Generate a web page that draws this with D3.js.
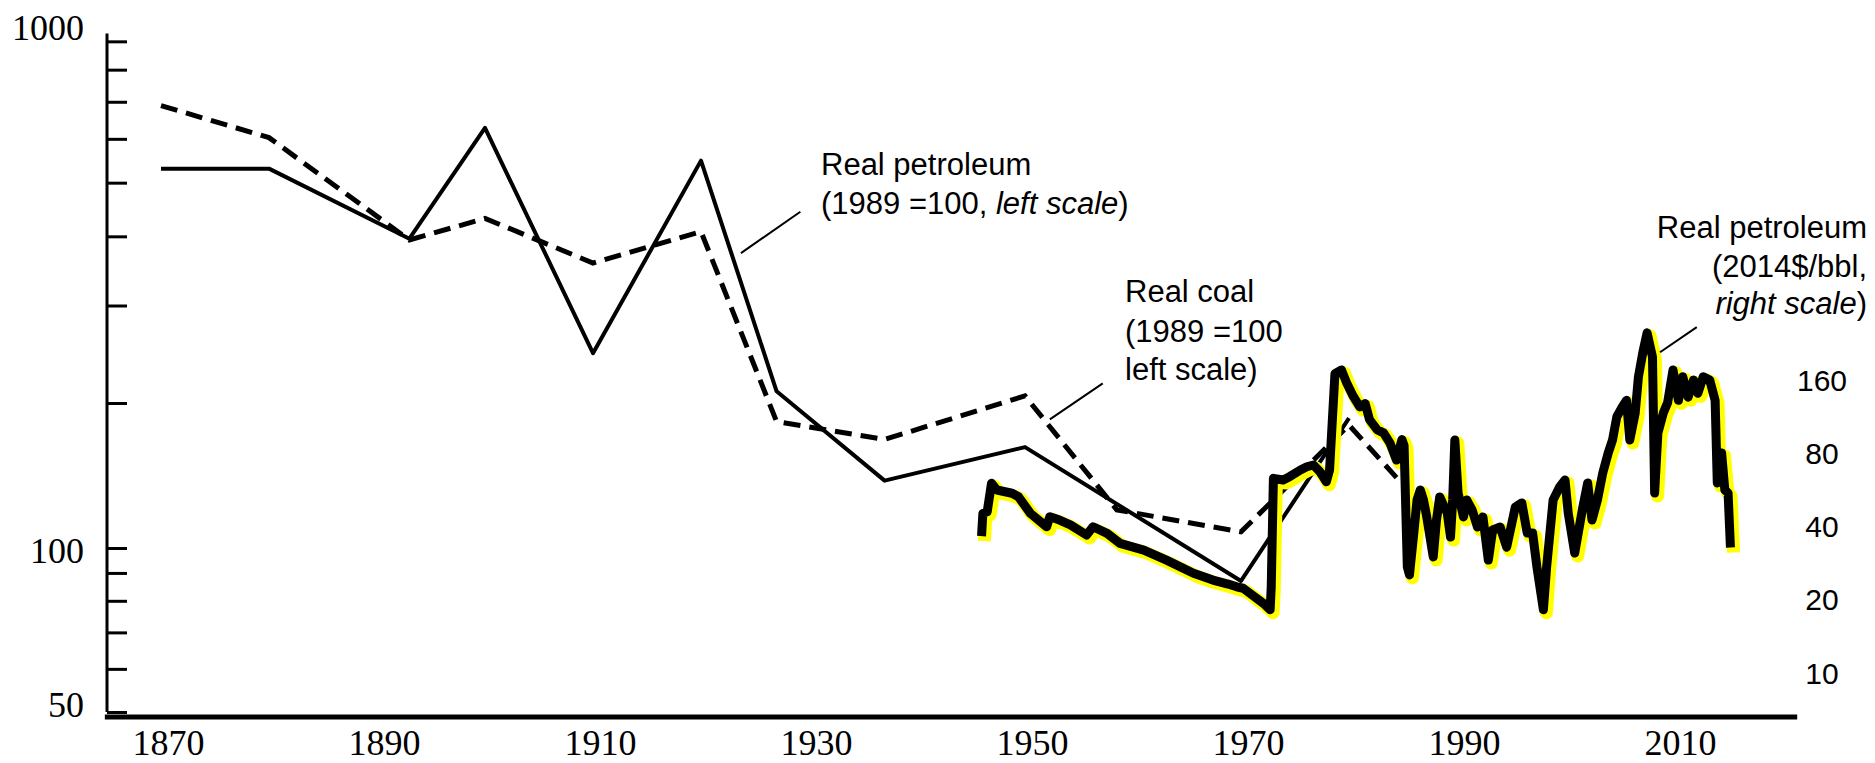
<!DOCTYPE html>
<html>
<head>
<meta charset="utf-8">
<script src="https://cdn.jsdelivr.net/npm/d3@7"></script>
<style>
    body { margin:0; background:#fff; }
    .sans { font-family:"Liberation Sans", Arial, sans-serif; }
    .serif { font-family:"Liberation Serif", "Times New Roman", serif; }
</style>
</head>
<body>
<svg id="chart" width="1875" height="763"></svg>
<script>
// old index series, 1989 = 100 (left scale)
var petroYears = [1870, 1880, 1893, 1900, 1910, 1920, 1927, 1937, 1950, 1970, 1980];
var petroIndex = [530, 530, 396, 628, 246, 548, 210, 138, 162, 87, 186];
var coalYears = [1870, 1880, 1893, 1900, 1910, 1920, 1927, 1937, 1950, 1958.5, 1970, 1980, 1984.4];
var coalIndex = [689, 603, 394, 431, 358, 408, 183, 168, 206, 120, 108, 180, 140];

// real petroleum price, 2014$/bbl (right scale)
var oilYears = [1946.0, 1946.1, 1946.5, 1946.9, 1947.4, 1948.8, 1949.4, 1950.5, 1952.0, 1952.3,
    1953.2, 1954.2, 1955.7, 1956.3, 1957.6, 1958.8, 1961.0, 1963.1, 1965.6, 1967.4,
    1968.8, 1969.6, 1970.2, 1972.1, 1972.7, 1972.8, 1973.0, 1973.9, 1974.5, 1975.5,
    1976.1, 1976.7, 1977.3, 1977.9, 1978.2, 1978.7, 1979.3, 1979.8, 1980.4, 1981.0,
    1981.5, 1981.9, 1982.6, 1983.2, 1983.8, 1984.4, 1984.9, 1985.1, 1985.4, 1985.6,
    1986.0, 1986.3, 1986.6, 1986.9, 1987.2, 1987.8, 1988.1, 1988.4, 1989.1, 1989.4,
    1989.6, 1989.8, 1990.1, 1990.6, 1990.9, 1991.4, 1991.9, 1992.4, 1992.9, 1993.3,
    1994.0, 1994.6, 1995.4, 1996.0, 1996.5, 1997.0, 1997.4, 1998.0, 1998.3, 1998.9,
    1999.5, 2000.0, 2000.3, 2000.9, 2001.6, 2002.1, 2002.5, 2003.0, 2003.5, 2004.0,
    2004.4, 2004.8, 2005.3, 2005.7, 2006.0, 2006.5, 2006.8, 2007.2, 2007.6, 2008.1,
    2008.3, 2008.6, 2009.1, 2009.5, 2010.0, 2010.5, 2010.9, 2011.4, 2011.9, 2012.3,
    2012.8, 2013.4, 2013.9, 2014.1, 2014.5, 2014.8, 2015.1, 2015.3];
var oilPrice = [38.1, 45.3, 46.0, 60.2, 56.5, 54.8, 53.0, 45.3, 39.9, 43.9,
    42.5, 40.6, 36.9, 39.9, 37.5, 34.1, 32.0, 29.1, 25.7, 24.1,
    23.2, 22.6, 22.3, 19.3, 18.2, 22.6, 63.1, 62.1, 64.1, 68.3,
    70.4, 71.6, 67.2, 61.1, 68.3, 170, 176, 155, 137, 124,
    128, 110, 100, 97, 88, 75, 91, 86, 27.3, 25.3,
    37.6, 51.4, 56.5, 51.4, 43.8, 30.0, 42.5, 52.9, 45.4, 36.2,
    51.4, 90.7, 54.9, 43.8, 51.4, 46.8, 39.8, 43.8, 29.1, 38.7,
    39.8, 32.9, 48.1, 50.0, 37.6, 37.6, 27.3, 18.2, 27.3, 51.4,
    58.1, 62.1, 45.4, 31.1, 46.8, 60.4, 42.5, 51.4, 66.4, 80.2,
    90.7, 113, 124, 132, 90.7, 117, 165, 207, 250, 199,
    54.9, 96.9, 117, 129, 176, 132, 165, 136, 160, 141,
    165, 160, 132, 60.4, 80.2, 56.5, 54.9, 34.2];

var yearTicks = [1870, 1890, 1910, 1930, 1950, 1970, 1990, 2010];
var leftTicks = [50, 60, 70, 80, 90, 100, 200, 300, 400, 500, 600, 700, 800, 900];
var leftLabels = [1000, 100, 50];
var rightTicks = [10, 20, 40, 80, 160];

var svg = d3.select("#chart");

var x = d3.scaleLinear().domain([1870, 2010]).range([161, 1673]);
// the scanned left scale is a little squeezed between 100 and 200
var yL = d3.scaleLog().domain([50, 100, 200, 1000]).range([712, 548, 403, 16]);
var yR = d3.scaleLog().base(2).domain([10, 160]).range([673, 380]);

// left axis, ticks pointing inwards
var leftAxis = svg.append("g")
    .attr("transform", "translate(107,0)")
    .call(d3.axisRight(yL).tickValues(leftTicks).tickSize(20).tickFormat(""));
leftAxis.select(".domain").remove();
leftAxis.selectAll(".tick line").attr("stroke", "#000").attr("stroke-width", 3);
svg.append("line")
    .attr("x1", 107).attr("x2", 107)
    .attr("y1", yL(930)).attr("y2", yL(50))
    .attr("stroke", "#000").attr("stroke-width", 3);

var labelShift = {1000: 24, 100: 15, 50: 5};
svg.selectAll(".lbl")
    .data(leftLabels)
    .enter()
    .append("text")
    .attr("class", "serif")
    .attr("x", 84)
    .attr("y", function(d) { return yL(d) + labelShift[d]; })
    .attr("text-anchor", "end")
    .style("font-size", "36px")
    .text(function(d) { return d; });

// bottom axis
var bottomAxis = svg.append("g")
    .attr("transform", "translate(7,717)")
    .call(d3.axisBottom(x).tickValues(yearTicks).tickSize(0).tickFormat(d3.format("d")));
bottomAxis.select(".domain").remove();
bottomAxis.selectAll("text")
    .attr("class", "serif")
    .attr("y", 38).attr("dy", null)
    .attr("fill", "#000")
    .style("font-size", "36px");
svg.append("line")
    .attr("x1", x(1864.8)).attr("x2", x(2021.5))
    .attr("y1", 717).attr("y2", 717)
    .attr("stroke", "#000").attr("stroke-width", 5);

// right scale labels only
svg.selectAll(".rlbl")
    .data(rightTicks)
    .enter()
    .append("text")
    .attr("class", "sans")
    .attr("x", 1822)
    .attr("y", function(d) { return yR(d) + 10.5; })
    .attr("text-anchor", "middle")
    .style("font-size", "30px")
    .text(function(d) { return d; });

var lineL = d3.line().x(function(d) { return x(d[0]); }).y(function(d) { return yL(d[1]); });
var lineR = d3.line().x(function(d) { return x(d[0]); }).y(function(d) { return yR(d[1]); });

svg.append("path")
    .datum(d3.zip(coalYears, coalIndex))
    .attr("d", lineL)
    .attr("fill", "none").attr("stroke", "#000")
    .attr("stroke-width", 5).attr("stroke-dasharray", "17,9");

svg.append("path")
    .datum(d3.zip(petroYears, petroIndex))
    .attr("d", lineL)
    .attr("fill", "none").attr("stroke", "#000")
    .attr("stroke-width", 4).attr("stroke-linejoin", "round");

// modern price: yellow halo under a thick black line
var oil = d3.zip(oilYears, oilPrice);
svg.append("path")
    .datum(oil)
    .attr("d", lineR)
    .attr("transform", "translate(3,3)")
    .attr("fill", "none").attr("stroke", "#ffff00")
    .attr("stroke-width", 13).attr("stroke-linejoin", "round").attr("stroke-linecap", "square");
svg.append("path")
    .datum(oil)
    .attr("d", lineR)
    .attr("fill", "none").attr("stroke", "#000")
    .attr("stroke-width", 9).attr("stroke-linejoin", "round").attr("stroke-linecap", "square");

// annotations
function leader(p, q, sc) {
    svg.append("line")
        .attr("x1", x(p[0])).attr("y1", sc(p[1]))
        .attr("x2", x(q[0])).attr("y2", sc(q[1]))
        .attr("stroke", "#000").attr("stroke-width", 2);
}
leader([1929.2, 443], [1923.7, 373], yL);
leader([1957.2, 217], [1952.3, 185], yL);
leader([2012.2, 264], [2008.8, 208], yR);

function note(xp, y0, anchor, lines) {
    var t = svg.append("text").attr("class", "sans")
        .attr("text-anchor", anchor).style("font-size", "31px");
    lines.forEach(function(parts, i) {
        parts.forEach(function(p, j) {
            var s = t.append("tspan").text(p[0]);
            if (j == 0) s.attr("x", xp).attr("y", y0[i]);
            if (p[1]) s.style("font-style", "italic");
        });
    });
}
note(821, [175, 214], "start", [
    [["Real petroleum"]],
    [["(1989 =100, "], ["left scale", true], [")"]]
]);
note(1125, [302, 342, 380], "start", [
    [["Real coal"]],
    [["(1989 =100"]],
    [["left scale)"]]
]);
note(1867, [238, 277, 314], "end", [
    [["Real petroleum"]],
    [["(2014$/bbl,"]],
    [["right scale", true], [")"]]
]);
</script>
</body>
</html>
